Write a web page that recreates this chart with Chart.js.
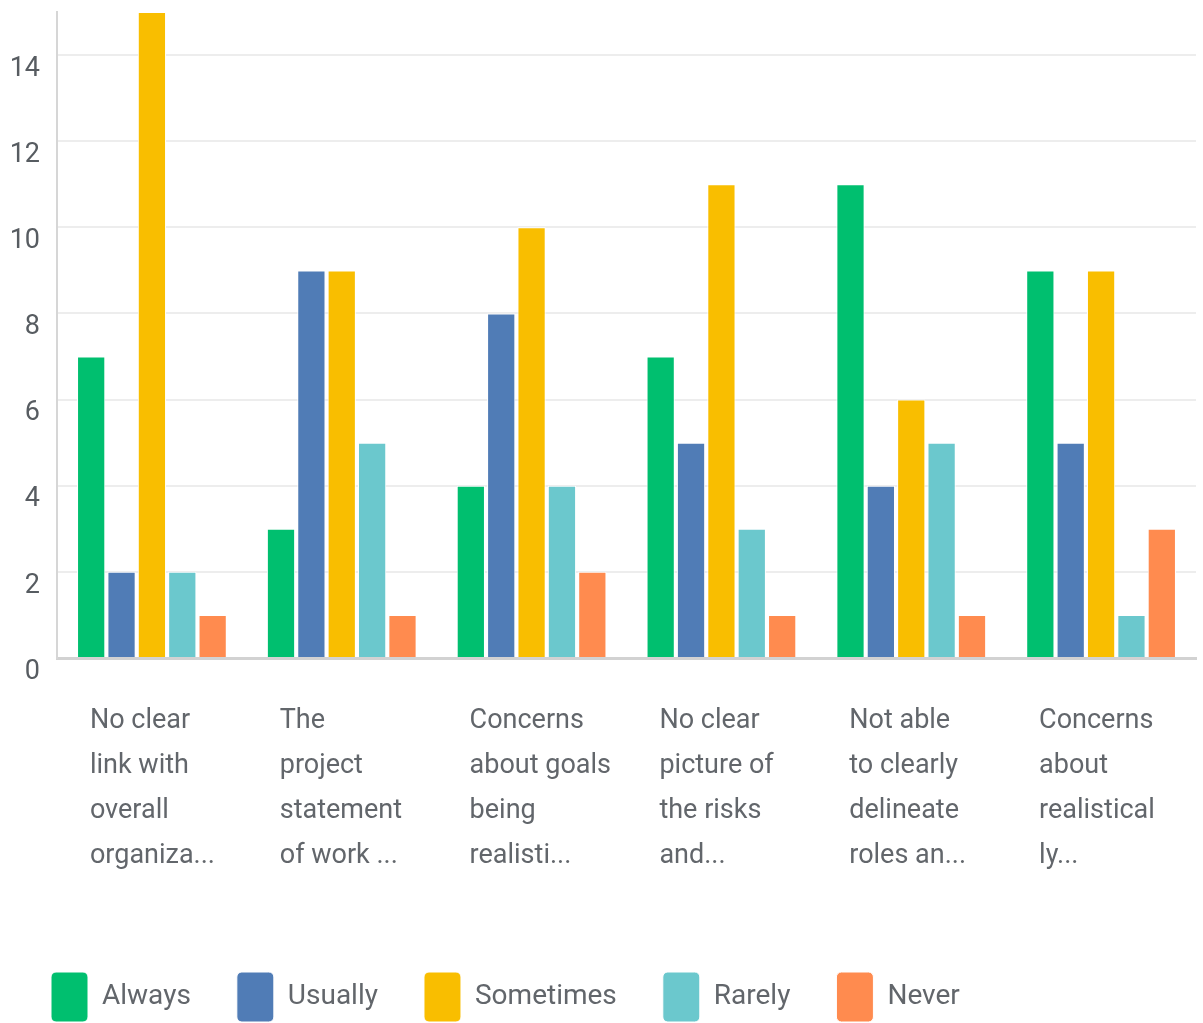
<!DOCTYPE html>
<html>
<head>
<meta charset="utf-8">
<script src="https://cdn.jsdelivr.net/npm/chart.js@4"></script>
<style>
    html, body { margin: 0; padding: 0; background: #fff; }
    #wrap { width: 1203px; height: 1023px; }
</style>
</head>
<body>
<div id="wrap"><canvas id="chart"></canvas></div>
<script>
const categories = [
    ["No clear", "link with", "overall", "organiza..."],
    ["The", "project", "statement", "of work ..."],
    ["Concerns", "about goals", "being", "realisti..."],
    ["No clear", "picture of", "the risks", "and..."],
    ["Not able", "to clearly", "delineate", "roles an..."],
    ["Concerns", "about", "realistical", "ly..."],
]

const seriesNames = ["Always", "Usually", "Sometimes", "Rarely", "Never"]
const seriesColors = ["#00bf6f", "#507cb6", "#f9be00", "#6bc8cd", "#ff8b4f"]

const always = [7, 3, 4, 7, 11, 9]
const usually = [2, 9, 8, 5, 4, 5]
const sometimes = [15, 9, 10, 11, 6, 9]
const rarely = [2, 5, 4, 3, 5, 1]
const never = [1, 1, 2, 1, 1, 3]

const yTicks = [0, 2, 4, 6, 8, 10, 12, 14]

const seriesValues = [always, usually, sometimes, rarely, never]
const textColor = "#62666b"

const datasets = seriesNames.map((name, i) => ({
    label: name,
    data: seriesValues[i],
    backgroundColor: seriesColors[i],
    borderColor: "#ffffff",
    borderWidth: 1,
    categoryPercentage: 0.8,
    barPercentage: 0.93,
}))

// drop the extra room chart.js keeps for the edge tick labels
function noEdgePadding(axis) {
    axis.paddingLeft = 0
    axis.paddingRight = 0
    axis.paddingTop = 0
    axis.paddingBottom = 0
}

new Chart("chart", {
    type: "bar",
    data: {
        labels: categories,
        datasets: datasets,
    },
    options: {
        responsive: true,
        maintainAspectRatio: false,
        animation: false,
        layout: {
            padding: { top: 12, right: 7, bottom: -9, left: 5 },
        },
        plugins: {
            tooltip: { enabled: false },
            legend: {
                position: "bottom",
                align: "start",
                labels: {
                    boxWidth: 37,
                    boxHeight: 50,
                    useBorderRadius: true,
                    borderRadius: 5,
                    padding: 46,
                    color: textColor,
                    font: { family: "Roboto", size: 28 },
                },
            },
        },
        scales: {
            x: {
                afterFit: axis => {
                    noEdgePadding(axis)
                    axis.height += 6
                },
                grid: { display: false, drawTicks: false },
                border: { display: true, color: "#d2d2d2", width: 3 },
                ticks: {
                    autoSkip: false,
                    maxRotation: 0,
                    align: "start",
                    labelOffset: -62,
                    padding: 41,
                    color: textColor,
                    font: { family: "Roboto", size: 27, lineHeight: 45 / 27 },
                },
            },
            y: {
                min: 0,
                max: 15,
                afterBuildTicks: axis => {
                    axis.ticks = yTicks.map(v => ({ value: v }))
                },
                afterFit: axis => {
                    axis.width = 52
                    noEdgePadding(axis)
                },
                grid: { color: "#ededed", lineWidth: 2, drawTicks: false },
                border: { display: true, color: "#d6d6d6", width: 2 },
                ticks: {
                    padding: 17,
                    labelOffset: 14,
                    color: "#575c61",
                    font: { family: "Roboto", size: 27 },
                },
            },
        },
    },
})
</script>
</body>
</html>
